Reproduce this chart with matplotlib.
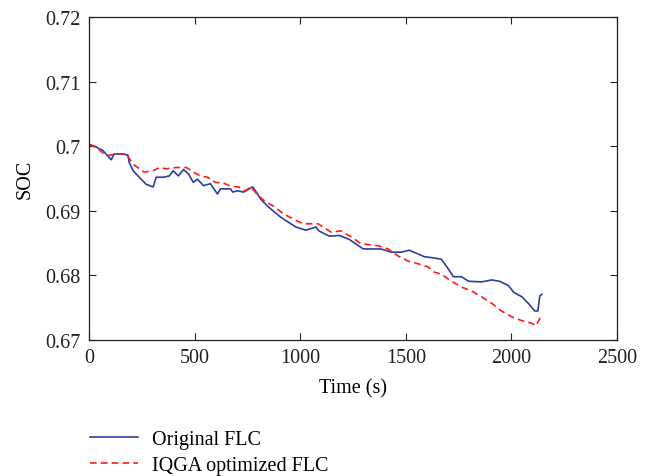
import matplotlib
matplotlib.use("Agg")
import matplotlib.pyplot as plt

# SOC trajectory, original fuzzy logic controller
orig_t = [0, 33, 67, 105, 119, 162, 185, 190, 209, 238, 271, 304, 318, 352, 380, 399,
          423, 447, 471, 494, 513, 542, 575, 608, 623, 670, 680, 703, 732, 775, 798,
          813, 846, 908, 979, 1027, 1074, 1088, 1136, 1155, 1183, 1231, 1298, 1383,
          1431, 1478, 1516, 1588, 1635, 1668, 1701, 1725, 1763, 1797, 1858, 1906,
          1944, 1987, 2010, 2049, 2082, 2110, 2125, 2134, 2144]
orig_soc = [0.7003, 0.6999, 0.6993, 0.6979, 0.6988, 0.6988, 0.6986, 0.6975, 0.6962,
            0.6952, 0.6941, 0.6937, 0.6952, 0.6952, 0.6954, 0.6962, 0.6954, 0.6964,
            0.6957, 0.6944, 0.6949, 0.6939, 0.6942, 0.6926, 0.6934, 0.6934, 0.6929,
            0.6931, 0.6929, 0.6937, 0.6926, 0.6918, 0.6907, 0.6890, 0.6875, 0.6870,
            0.6875, 0.6869, 0.6861, 0.6861, 0.6862, 0.6856, 0.6841, 0.6841, 0.6836,
            0.6836, 0.6839, 0.6829, 0.6827, 0.6825, 0.6810, 0.6798, 0.6798, 0.6791,
            0.6790, 0.6793, 0.6791, 0.6784, 0.6774, 0.6767, 0.6756, 0.6745, 0.6745,
            0.6768, 0.6771]

# SOC trajectory, IQGA-optimized fuzzy logic controller
iqga_t = [0, 40, 81, 128, 176, 209, 261, 304, 333, 366, 413, 461, 494, 527, 561, 599,
          637, 670, 708, 741, 765, 803, 836, 875, 922, 970, 1012, 1084, 1146, 1193,
          1240, 1288, 1369, 1416, 1464, 1511, 1559, 1606, 1635, 1668, 1716, 1763,
          1811, 1858, 1906, 1953, 2001, 2049, 2096, 2115, 2134, 2144]
iqga_soc = [0.7003, 0.6997, 0.6985, 0.6988, 0.6988, 0.6972, 0.6960, 0.6962, 0.6967,
            0.6965, 0.6967, 0.6967, 0.6960, 0.6954, 0.6952, 0.6944, 0.6943, 0.6938,
            0.6937, 0.6931, 0.6937, 0.6923, 0.6914, 0.6907, 0.6895, 0.6887, 0.6880,
            0.6880, 0.6867, 0.6869, 0.6860, 0.6849, 0.6846, 0.6841, 0.6830, 0.6822,
            0.6818, 0.6813, 0.6805, 0.6802, 0.6791, 0.6782, 0.6776, 0.6767, 0.6757,
            0.6745, 0.6736, 0.6730, 0.6726, 0.6722, 0.6733, 0.6737]

x_ticks = [0, 500, 1000, 1500, 2000, 2500]
y_ticks = [0.67, 0.68, 0.69, 0.70, 0.71, 0.72]
y_tick_labels = ["0.67", "0.68", "0.69", "0.7", "0.71", "0.72"]

plt.rcParams["font.family"] = ["Liberation Serif", "DejaVu Serif"]

fig = plt.figure(figsize=(6.53, 4.77), dpi=100)
ax = fig.add_axes([0.1363, 0.285, 0.8087, 0.6773])

l1, = ax.plot(orig_t, orig_soc, color="#2a3f9e", lw=1.2, label="Original FLC")
l2, = ax.plot(iqga_t, iqga_soc, color="#ff1a1a", lw=1.2, ls=(0, (4, 2.5)),
              label="IQGA optimized FLC")

ax.set_xlim(0, 2500)
ax.set_ylim(0.67, 0.72)
ax.set_xticks(x_ticks)
ax.set_xticklabels([str(v) for v in x_ticks])
ax.set_yticks(y_ticks)
ax.set_yticklabels(y_tick_labels)
ax.tick_params(direction="in", top=True, right=True, length=5, width=0.8,
               labelsize=14.5, pad=6, colors="#222222")
for s in ax.spines.values():
    s.set_linewidth(0.9)
    s.set_color("#222222")

ax.set_xlabel("Time (s)", fontsize=14.5, labelpad=8)
ax.set_ylabel("SOC", fontsize=14.5, labelpad=8)

fig.legend(handles=[l1, l2], loc="center left", bbox_to_anchor=(0.11, 0.05),
           frameon=False, fontsize=14.5, handlelength=2.4, handletextpad=0.7,
           labelspacing=0.35)

fig.savefig("out.png", dpi=100)
